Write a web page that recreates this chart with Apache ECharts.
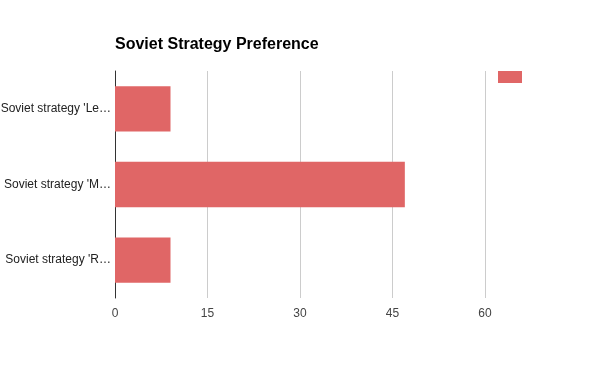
<!DOCTYPE html>
<html><head><meta charset="utf-8">
<script src="https://cdn.jsdelivr.net/npm/echarts@6/dist/echarts.min.js"></script>
<style>html,body{margin:0;padding:0;background:#fff}#c{width:600px;height:371px}</style>
</head><body><div id="c"></div>
<script>
const categories = ["Soviet strategy 'Le\u2026", "Soviet strategy 'M\u2026", "Soviet strategy 'R\u2026"];
const values = [9, 47, 9];
const xTicks = [0, 15, 30, 45, 60];
const seriesName = 'Count';

const chart = echarts.init(document.getElementById('c'), null, {renderer: 'canvas'});
chart.setOption({
  animation: false,
  title: {
    text: 'Soviet Strategy Preference',
    left: 115, top: 37, padding: 0,
    textStyle: {fontFamily: 'Liberation Sans, Arial', fontSize: 16, fontWeight: 'bold', color: '#000'}
  },
  legend: {
    data: [seriesName],
    left: 498, top: 71, padding: 0,
    itemWidth: 24, itemHeight: 12, icon: 'rect',
    formatter: () => '',
    selectedMode: false
  },
  grid: {left: 115, right: 115, top: 71, bottom: 73, containLabel: false, outerBoundsMode: 'none'},
  xAxis: {
    type: 'value', min: xTicks[0], max: xTicks[xTicks.length - 1], interval: 15,
    axisLine: {show: false}, axisTick: {show: false},
    splitLine: {lineStyle: {color: '#cccccc', width: 1}},
    axisLabel: {color: '#444', fontSize: 12, fontFamily: 'Liberation Sans, Arial', margin: 10}
  },
  yAxis: {
    type: 'category', data: categories, inverse: true,
    axisLine: {lineStyle: {color: '#333', width: 1}},
    axisTick: {show: false},
    axisLabel: {color: '#222', fontSize: 12, fontFamily: 'Liberation Sans, Arial', margin: 4}
  },
  series: [{
    name: seriesName, type: 'bar', data: values,
    barCategoryGap: '40%',
    itemStyle: {color: '#e06666'}
  }]
});
</script></body></html>
